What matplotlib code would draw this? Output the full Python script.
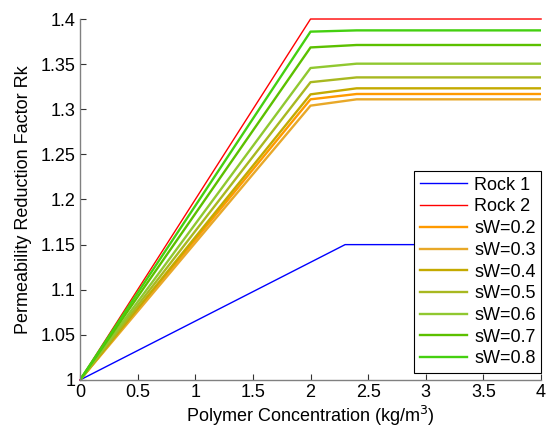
import matplotlib
matplotlib.use('Agg')
import matplotlib.pyplot as plt

plt.rcParams['font.family'] = ['Liberation Sans', 'DejaVu Sans']

# Polymer concentration breakpoints
x_rock1 = [0, 2.3, 4]
y_rock1 = [1.0, 1.15, 1.15]
x_rock2 = [0, 2, 4]
y_rock2 = [1.0, 1.4, 1.4]

x_sw = [0, 2, 2.4, 4]
sw_labels = ['sW=0.2', 'sW=0.3', 'sW=0.4', 'sW=0.5', 'sW=0.6', 'sW=0.7', 'sW=0.8']
sw_knee = [1.311, 1.304, 1.3165, 1.330, 1.3457, 1.3685, 1.386]
sw_plateau = [1.3169, 1.311, 1.3232, 1.3353, 1.3505, 1.3712, 1.3874]
sw_colors = ['#ff9a00', '#e8a828', '#c4aa00', '#a8b820', '#90c830', '#5cc000', '#44d010']

fig = plt.figure(figsize=(5.46, 4.32), dpi=100)
ax = fig.add_axes([0.1465, 0.1204, 0.8445, 0.8356])

ax.plot(x_rock1, y_rock1, color='#0000ff', lw=1.0, label='Rock 1', clip_on=False)
ax.plot(x_rock2, y_rock2, color='#ff0000', lw=1.0, label='Rock 2', clip_on=False)
for lab, k, p, c in zip(sw_labels, sw_knee, sw_plateau, sw_colors):
    ax.plot(x_sw, [1.0, k, p, p], color=c, lw=1.7, label=lab)

ax.set_xlim(0, 4)
ax.set_ylim(1.0, 1.4)
ax.set_xticks([0, 0.5, 1, 1.5, 2, 2.5, 3, 3.5, 4])
ax.set_xticklabels(['0', '0.5', '1', '1.5', '2', '2.5', '3', '3.5', '4'])
ax.set_yticks([1, 1.05, 1.1, 1.15, 1.2, 1.25, 1.3, 1.35, 1.4])
ax.set_yticklabels(['1', '1.05', '1.1', '1.15', '1.2', '1.25', '1.3', '1.35', '1.4'])
ax.tick_params(direction='in', length=4, width=0.8, labelsize=13, color='#333333', pad=3)

for s in ['top', 'right']:
    ax.spines[s].set_visible(False)
for s in ['left', 'bottom']:
    ax.spines[s].set_color('#808080')
    ax.spines[s].set_linewidth(1.0)

ax.set_xlabel('Polymer Concentration (kg/m$^3$)', fontsize=13, labelpad=2)
ax.set_ylabel('Permeability Reduction Factor Rk', fontsize=13, labelpad=6)

leg = ax.legend(loc='lower right', bbox_to_anchor=(1.0, 0.02), fontsize=13,
                frameon=True, fancybox=False, edgecolor='black', framealpha=1,
                handlelength=2.6, labelspacing=0.26, borderpad=0.3, handletextpad=0.4,
                borderaxespad=0)
leg.get_frame().set_linewidth(0.8)

fig.savefig('out.png', dpi=100)
